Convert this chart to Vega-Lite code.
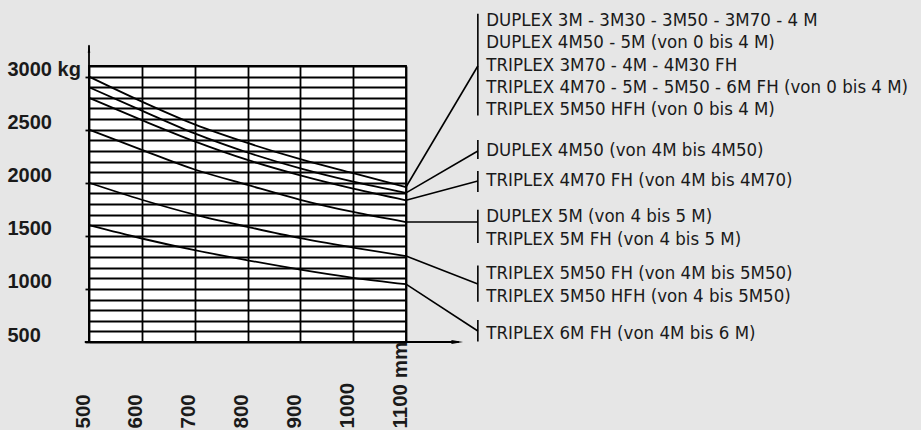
{
  "$schema": "https://vega.github.io/schema/vega-lite/v6.json",
  "width": 317,
  "height": 276,
  "autosize": {"type": "none"},
  "padding": {"left": 89, "top": 66, "right": 515, "bottom": 88},
  "background": "#e6e6e6",
  "config": {
    "view": {"fill": "white", "stroke": "black", "strokeWidth": 1.8},
    "axis": {"gridColor": "black", "gridWidth": 1.8, "gridOpacity": 1, "domain": false, "labelColor": "#1a1a1a", "labelFont": "Liberation Sans", "labelFontWeight": "bold", "labelOverlap": false, "labelFlush": false}
  },
  "datasets": {
    "curves": [
      {"s": "c1", "x": 500, "y": 3000}, {"s": "c1", "x": 600, "y": 2765}, {"s": "c1", "x": 700, "y": 2550}, {"s": "c1", "x": 800, "y": 2375}, {"s": "c1", "x": 900, "y": 2222}, {"s": "c1", "x": 1000, "y": 2090}, {"s": "c1", "x": 1100, "y": 1960},
      {"s": "c2", "x": 500, "y": 2900}, {"s": "c2", "x": 600, "y": 2680}, {"s": "c2", "x": 700, "y": 2465}, {"s": "c2", "x": 800, "y": 2285}, {"s": "c2", "x": 900, "y": 2135}, {"s": "c2", "x": 1000, "y": 2010}, {"s": "c2", "x": 1100, "y": 1905},
      {"s": "c3", "x": 500, "y": 2800}, {"s": "c3", "x": 600, "y": 2590}, {"s": "c3", "x": 700, "y": 2390}, {"s": "c3", "x": 800, "y": 2215}, {"s": "c3", "x": 900, "y": 2070}, {"s": "c3", "x": 1000, "y": 1945}, {"s": "c3", "x": 1100, "y": 1835},
      {"s": "c4", "x": 500, "y": 2500}, {"s": "c4", "x": 600, "y": 2310}, {"s": "c4", "x": 700, "y": 2125}, {"s": "c4", "x": 800, "y": 1980}, {"s": "c4", "x": 900, "y": 1840}, {"s": "c4", "x": 1000, "y": 1725}, {"s": "c4", "x": 1100, "y": 1630},
      {"s": "c5", "x": 500, "y": 2000}, {"s": "c5", "x": 600, "y": 1840}, {"s": "c5", "x": 700, "y": 1700}, {"s": "c5", "x": 800, "y": 1585}, {"s": "c5", "x": 900, "y": 1478}, {"s": "c5", "x": 1000, "y": 1390}, {"s": "c5", "x": 1100, "y": 1310},
      {"s": "c6", "x": 500, "y": 1600}, {"s": "c6", "x": 600, "y": 1475}, {"s": "c6", "x": 700, "y": 1365}, {"s": "c6", "x": 800, "y": 1270}, {"s": "c6", "x": 900, "y": 1182}, {"s": "c6", "x": 1000, "y": 1105}, {"s": "c6", "x": 1100, "y": 1045}
    ],
    "leaders": [
      {"x": 1100, "y": 1960, "x2": 1236, "y2": 3100},
      {"x": 1100, "y": 1905, "x2": 1236, "y2": 2299},
      {"x": 1100, "y": 1835, "x2": 1236, "y2": 2017},
      {"x": 1100, "y": 1630, "x2": 1236, "y2": 1630},
      {"x": 1100, "y": 1310, "x2": 1236, "y2": 1046},
      {"x": 1100, "y": 1045, "x2": 1236, "y2": 604}
    ],
    "brackets": [
      {"x": 1236, "y": 3592, "y2": 2633},
      {"x": 1236, "y": 2403, "y2": 2224},
      {"x": 1236, "y": 2111, "y2": 1913},
      {"x": 1236, "y": 1746, "y2": 1432},
      {"x": 1236, "y": 1220, "y2": 879},
      {"x": 1236, "y": 707, "y2": 505}
    ],
    "labels": [
      {"x": 1252, "y": 3533, "t": "DUPLEX 3M - 3M30 - 3M50 - 3M70 - 4 M"},
      {"x": 1252, "y": 3323, "t": "DUPLEX 4M50 - 5M (von 0 bis 4 M)"},
      {"x": 1252, "y": 3113, "t": "TRIPLEX 3M70 - 4M - 4M30 FH"},
      {"x": 1252, "y": 2903, "t": "TRIPLEX 4M70 - 5M - 5M50 - 6M FH (von 0 bis 4 M)"},
      {"x": 1252, "y": 2693, "t": "TRIPLEX 5M50 HFH (von 0 bis 4 M)"},
      {"x": 1252, "y": 2313, "t": "DUPLEX 4M50 (von 4M bis 4M50)"},
      {"x": 1252, "y": 2026, "t": "TRIPLEX 4M70 FH (von 4M bis 4M70)"},
      {"x": 1252, "y": 1683, "t": "DUPLEX 5M (von 4 bis 5 M)"},
      {"x": 1252, "y": 1472, "t": "TRIPLEX 5M FH (von 4 bis 5 M)"},
      {"x": 1252, "y": 1150, "t": "TRIPLEX 5M50 FH (von 4M bis 5M50)"},
      {"x": 1252, "y": 933, "t": "TRIPLEX 5M50 HFH (von 4 bis 5M50)"},
      {"x": 1252, "y": 588, "t": "TRIPLEX 6M FH (von 4M bis 6 M)"}
    ],
    "axislines": [
      {"x": 492, "y": 500, "x2": 1200, "y2": 500},
      {"x": 500, "y": 500, "x2": 500, "y2": 3295}
    ],
    "arrowR": [{"x": 1197, "y": 500}],
    "arrowU": [{"x": 500, "y": 3265}]
  },
  "encoding": {
    "x": {"field": "x", "type": "quantitative", "title": null, "scale": {"domain": [500, 1100], "nice": false, "zero": false},
      "axis": {"values": [500, 600, 700, 800, 900, 1000, 1100], "grid": true, "ticks": false, "labelAngle": -90, "labelAlign": "left", "labelBaseline": "middle", "labelPadding": 86, "labelOffset": -6, "labelFontSize": 20.5, "labelExpr": "datum.value == 1100 ? '1100 mm' : datum.value + ''"}},
    "y": {"field": "y", "type": "quantitative", "title": null, "scale": {"domain": [500, 3100], "nice": false, "zero": false},
      "axis": {"values": [500, 600, 700, 800, 900, 1000, 1100, 1200, 1300, 1400, 1500, 1600, 1700, 1800, 1900, 2000, 2100, 2200, 2300, 2400, 2500, 2600, 2700, 2800, 2900, 3000, 3100], "grid": true, "tickSize": 4, "tickWidth": 1.8,
        "tickColor": {"condition": {"test": "datum.value % 500 == 0 && datum.value <= 3000", "value": "black"}, "value": "transparent"},
        "labelAlign": "left", "labelBaseline": "alphabetic", "labelPadding": 78, "labelOffset": -1, "labelFontSize": 20,
        "labelExpr": "datum.value % 500 == 0 && datum.value <= 3000 ? (datum.value == 3000 ? '3000 kg' : datum.value + '') : ''"}}
  },
  "layer": [
    {
      "data": {"name": "curves"},
      "mark": {"type": "line", "color": "black", "strokeWidth": 1.8, "interpolate": "monotone"},
      "encoding": {"detail": {"field": "s"}}
    },
    {
      "data": {"name": "axislines"},
      "mark": {"type": "rule", "color": "black", "strokeWidth": 1.8},
      "encoding": {"x2": {"field": "x2"}, "y2": {"field": "y2"}}
    },
    {
      "data": {"name": "leaders"},
      "mark": {"type": "rule", "color": "black", "strokeWidth": 1.6},
      "encoding": {"x2": {"field": "x2"}, "y2": {"field": "y2"}}
    },
    {
      "data": {"name": "brackets"},
      "mark": {"type": "rule", "color": "black", "strokeWidth": 1.6},
      "encoding": {"y2": {"field": "y2"}}
    },
    {
      "data": {"name": "arrowR"},
      "mark": {"type": "point", "shape": "M -1 -0.35 L 1 0 L -1 0.35 Z", "filled": true, "color": "black", "opacity": 1, "size": 135},
      "encoding": {}
    },
    {
      "data": {"name": "arrowU"},
      "mark": {"type": "point", "shape": "M -0.3 1 L 0 -1 L 0.3 1 Z", "filled": true, "color": "black", "opacity": 1, "size": 70},
      "encoding": {}
    },
    {
      "data": {"name": "labels"},
      "mark": {"type": "text", "align": "left", "baseline": "middle", "font": "DejaVu Sans Condensed, Liberation Sans Narrow, sans-serif", "fontSize": 18.5, "color": "#1a1a1a"},
      "encoding": {"text": {"field": "t"}}
    }
  ]
}
